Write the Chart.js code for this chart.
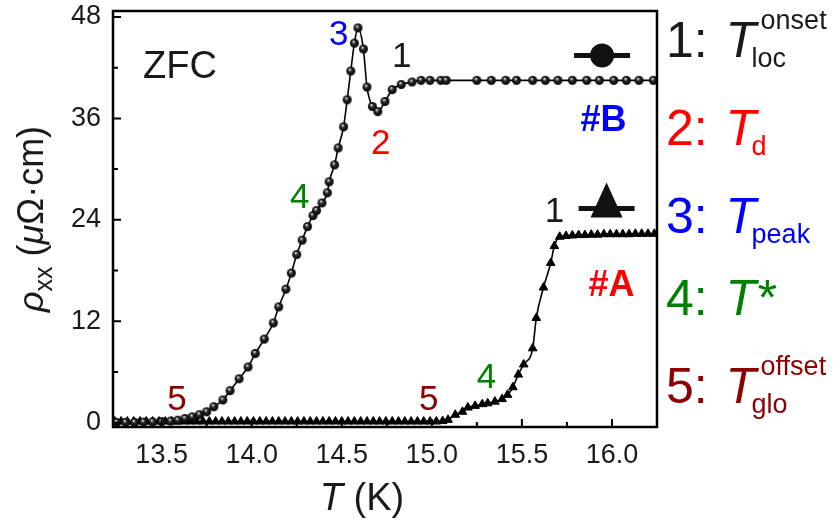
<!DOCTYPE html>
<html>
<head>
<meta charset="utf-8">
<script src="https://cdn.jsdelivr.net/npm/chart.js@4"></script>
<style>
html, body { margin: 0; padding: 0; background: #fff; }
#wrap { width: 840px; height: 521px; }
</style>
</head>
<body>
<div id="wrap"><canvas id="c" width="840" height="521"></canvas></div>
<script>
"use strict";

// sample #B (spheres), T in K, rho in uOhm.cm
const tempB = [13.25, 13.30, 13.35, 13.40, 13.45, 13.50, 13.55, 13.59,
    13.63, 13.67, 13.71, 13.75, 13.79, 13.84, 13.88, 13.93, 13.98, 14.02, 14.07,
    14.12, 14.15, 14.19, 14.22, 14.25, 14.28, 14.31, 14.34, 14.36, 14.39,
    14.42, 14.43, 14.46, 14.48, 14.51, 14.53, 14.55, 14.57, 14.59, 14.62,
    14.64, 14.67, 14.70, 14.74, 14.78,
    14.83, 14.89, 14.94, 14.99, 15.05, 15.08,
    15.25, 15.33, 15.41, 15.47, 15.56, 15.63, 15.70, 15.78, 15.86, 15.93,
    16.01, 16.08, 16.15, 16.23];
const rhoB = [0.05, 0.05, 0.05, 0.08, 0.1, 0.15, 0.2, 0.3,
    0.5, 0.7, 0.95, 1.3, 1.9, 2.7, 3.8, 5.2, 6.6, 8.2, 9.9,
    11.8, 13.7, 15.8, 17.7, 19.9, 21.6, 23.2, 24.5, 25.1, 26.0,
    27.2, 28.5, 30.5, 32.5, 35.0, 38.2, 41.6, 44.9, 46.7, 44.2,
    39.7, 37.4, 36.8, 38.0, 39.4,
    40.0, 40.3, 40.5, 40.5, 40.5, 40.5,
    40.5, 40.5, 40.5, 40.5, 40.5, 40.5, 40.5, 40.5, 40.5, 40.5,
    40.5, 40.5, 40.5, 40.5];

// sample #A (triangles)
const tempA = [13.240, 13.275, 13.310, 13.345, 13.380, 13.415, 13.450, 13.485,
    13.520, 13.555, 13.590, 13.625, 13.660, 13.695, 13.730, 13.765, 13.800,
    13.835, 13.870, 13.905, 13.940, 13.975, 14.010, 14.045, 14.080, 14.115,
    14.150, 14.185, 14.220, 14.255, 14.290, 14.325, 14.360, 14.395, 14.430,
    14.465, 14.500, 14.535, 14.570, 14.605, 14.640, 14.675, 14.710, 14.745,
    14.780, 14.815, 14.850, 14.885, 14.920, 14.955, 14.990, 15.025, 15.060,
    15.09, 15.13, 15.17, 15.20, 15.24, 15.28, 15.31, 15.35, 15.39, 15.42,
    15.45, 15.48, 15.51, 15.56, 15.58, 15.62, 15.66, 15.68, 15.71,
    15.745, 15.780, 15.815, 15.850, 15.885, 15.920, 15.955, 15.990, 16.025,
    16.060, 16.095, 16.130, 16.165, 16.200, 16.235];
const rhoA = [0.15, 0.15, 0.15, 0.15, 0.15, 0.15, 0.15, 0.15,
    0.15, 0.15, 0.15, 0.15, 0.15, 0.15, 0.15, 0.15, 0.15,
    0.15, 0.15, 0.15, 0.15, 0.15, 0.15, 0.15, 0.15, 0.15,
    0.15, 0.15, 0.15, 0.15, 0.15, 0.15, 0.15, 0.15, 0.15,
    0.15, 0.15, 0.15, 0.15, 0.15, 0.15, 0.15, 0.15, 0.15,
    0.15, 0.15, 0.15, 0.15, 0.15, 0.15, 0.15, 0.15, 0.2,
    0.35, 0.95, 1.3, 1.8, 2.0, 2.2, 2.3, 2.5, 2.8, 3.3,
    4.2, 5.7, 6.9, 8.8, 12.4, 16.0, 18.9, 20.9, 22.0,
    22.1, 22.15, 22.2, 22.2, 22.25, 22.25, 22.3, 22.3, 22.3,
    22.3, 22.3, 22.35, 22.35, 22.35, 22.35];

const xTicks = [13.5, 14.0, 14.5, 15.0, 15.5, 16.0];
const xMinor = [13.25, 13.75, 14.25, 14.75, 15.25, 15.75];
const yTicks = [0, 12, 24, 36, 48];
const yMinor = [6, 18, 30, 42];

const FONT = '"Liberation Sans", Arial, sans-serif';
const C_BLACK = '#1a1a1a';
const C_RED = '#ff0000';
const C_BLUE = '#0000ff';
const C_GREEN = '#008000';
const C_DARKRED = '#8b0000';

function makeSphere(r) {
    const c = document.createElement('canvas');
    const s = Math.ceil(r * 2 + 2);
    c.width = s; c.height = s;
    const g = c.getContext('2d');
    const m = s / 2;
    const grad = g.createRadialGradient(m - r * 0.25, m - r * 0.4, 0.1, m, m, r);
    grad.addColorStop(0, '#ffffff');
    grad.addColorStop(0.15, '#b0b0b0');
    grad.addColorStop(0.4, '#2a2a2a');
    grad.addColorStop(1, '#000');
    g.fillStyle = grad;
    g.beginPath();
    g.arc(m, m, r, 0, Math.PI * 2);
    g.fill();
    return c;
}

function toPoints(xs, ys) {
    return xs.map((x, i) => ({ x: x, y: ys[i] }));
}

// centred label, y is the middle of the digits
function drawLabel(ctx, x, y, size, color, text, opts) {
    opts = opts || {};
    ctx.fillStyle = color;
    ctx.textBaseline = 'alphabetic';
    ctx.textAlign = 'left';
    ctx.font = (opts.bold ? 'bold ' : '') + size + 'px ' + FONT;
    const w = ctx.measureText(text).width;
    ctx.fillText(text, x - w / 2, y + size * 0.358);
}

const annotPlugin = {
    id: 'annot',
    afterDraw(chart) {
        const ctx = chart.ctx;
        const xs = chart.scales.x, ys = chart.scales.y;
        const a = chart.chartArea;
        const X = v => xs.getPixelForValue(v);
        const Y = v => ys.getPixelForValue(v);

        ctx.save();
        // frame
        ctx.strokeStyle = '#000';
        ctx.lineWidth = 2.5;
        ctx.strokeRect(a.left, a.top, a.right - a.left, a.bottom - a.top);

        // inward ticks
        ctx.lineWidth = 2;
        ctx.beginPath();
        xTicks.forEach(v => { ctx.moveTo(X(v), a.bottom); ctx.lineTo(X(v), a.bottom - 8); });
        xMinor.forEach(v => { ctx.moveTo(X(v), a.bottom); ctx.lineTo(X(v), a.bottom - 5); });
        yTicks.forEach(v => { ctx.moveTo(a.left, Y(v)); ctx.lineTo(a.left + 8, Y(v)); });
        yMinor.forEach(v => { ctx.moveTo(a.left, Y(v)); ctx.lineTo(a.left + 5, Y(v)); });
        ctx.stroke();

        // labels inside the plot
        drawLabel(ctx, X(13.602), Y(42.44), 38, C_BLACK, 'ZFC');
        drawLabel(ctx, X(14.483), Y(46.16), 35, C_BLUE, '3');
        drawLabel(ctx, X(14.833), Y(43.5), 35, C_BLACK, '1');
        drawLabel(ctx, X(14.716), Y(33.27), 35, C_RED, '2');
        drawLabel(ctx, X(14.267), Y(26.94), 35, C_GREEN, '4');
        drawLabel(ctx, X(13.585), Y(3.05), 35, C_DARKRED, '5');
        drawLabel(ctx, X(14.983), Y(3.05), 35, C_DARKRED, '5');
        drawLabel(ctx, X(15.304), Y(5.65), 35, C_GREEN, '4');
        drawLabel(ctx, X(15.681), Y(25.17), 35, C_BLACK, '1');
        drawLabel(ctx, X(15.953), Y(36.05), 36, C_BLUE, '#B', { bold: true });
        drawLabel(ctx, X(15.998), Y(16.54), 36, C_RED, '#A', { bold: true });

        // series symbols
        ctx.strokeStyle = '#111';
        ctx.fillStyle = '#111';
        ctx.lineWidth = 5;
        let cx = X(15.945), cy = Y(43.44);
        ctx.beginPath(); ctx.moveTo(cx - 28, cy); ctx.lineTo(cx + 28, cy); ctx.stroke();
        ctx.beginPath(); ctx.arc(cx, cy, 12, 0, Math.PI * 2); ctx.fill();
        cx = X(15.970); cy = Y(25.35);
        ctx.beginPath(); ctx.moveTo(cx - 28, cy); ctx.lineTo(cx + 28, cy); ctx.stroke();
        ctx.beginPath();
        ctx.moveTo(cx, cy - 26); ctx.lineTo(cx + 16, cy + 9); ctx.lineTo(cx - 16, cy + 9);
        ctx.closePath(); ctx.fill();

        // axis titles
        ctx.fillStyle = '#1a1a1a';
        ctx.textBaseline = 'alphabetic';
        ctx.textAlign = 'left';
        const tParts = [
            { t: 'T', f: 'italic 38px ' + FONT },
            { t: ' (K)', f: '38px ' + FONT }
        ];
        let tw = 0;
        tParts.forEach(p => { ctx.font = p.f; tw += ctx.measureText(p.t).width; });
        let tx = (a.left + a.right) / 2 - tw / 2 - 23;
        tParts.forEach(p => { ctx.font = p.f; ctx.fillText(p.t, tx, 510); tx += ctx.measureText(p.t).width; });

        const yParts = [
            { t: '\u03c1', f: 'italic 36px ' + FONT, dy: 0 },
            { t: 'xx', f: '25px ' + FONT, dy: 9 },
            { t: ' (', f: '36px ' + FONT, dy: 0 },
            { t: '\u03bc', f: 'italic 36px ' + FONT, dy: 0 },
            { t: '\u03a9\u00b7cm)', f: '36px ' + FONT, dy: 0 }
        ];
        let yw = 0;
        yParts.forEach(p => { ctx.font = p.f; yw += ctx.measureText(p.t).width; });
        ctx.save();
        ctx.translate(43, (a.top + a.bottom) / 2);
        ctx.rotate(-Math.PI / 2);
        let ux = -yw / 2;
        yParts.forEach(p => { ctx.font = p.f; ctx.fillText(p.t, ux, p.dy); ux += ctx.measureText(p.t).width; });
        ctx.restore();

        // key on the right
        const rows = [
            { n: '1', c: C_BLACK, sup: 'onset', sub: 'loc', b: 57 },
            { n: '2', c: C_RED, sub: 'd', b: 145 },
            { n: '3', c: C_BLUE, sub: 'peak', b: 233 },
            { n: '4', c: C_GREEN, star: true, b: 315 },
            { n: '5', c: C_DARKRED, sup: 'offset', sub: 'glo', b: 403 }
        ];
        const lx = a.right + 9;
        rows.forEach(r => {
            ctx.fillStyle = r.c;
            ctx.font = '50px ' + FONT;
            const head = r.n + ': ';
            ctx.fillText(head, lx, r.b);
            const Tx = lx + ctx.measureText(head).width + 4;
            ctx.font = 'italic 50px ' + FONT;
            ctx.fillText('T', Tx, r.b);
            if (r.star) {
                ctx.fillText('*', Tx + 30, r.b);
            }
            ctx.font = '27px ' + FONT;
            if (r.sub) ctx.fillText(r.sub, Tx + 26, r.b + 10);
            if (r.sup) ctx.fillText(r.sup, Tx + 35, r.b - 28);
        });
        ctx.restore();
    }
};

const sphere = makeSphere(4.5);
const ctx = document.getElementById('c').getContext('2d');

new Chart(ctx, {
    type: 'scatter',
    data: {
        datasets: [
            {
                label: '#B',
                data: toPoints(tempB, rhoB),
                showLine: true,
                borderColor: '#000',
                borderWidth: 1.6,
                cubicInterpolationMode: 'monotone',
                pointStyle: sphere,
                pointRadius: 4.5,
                order: 0
            },
            {
                label: '#A',
                data: toPoints(tempA, rhoA),
                showLine: true,
                borderColor: '#000',
                borderWidth: 1.6,
                cubicInterpolationMode: 'monotone',
                pointStyle: 'triangle',
                pointRadius: 5,
                pointBackgroundColor: '#000',
                pointBorderColor: '#000',
                pointBorderWidth: 1,
                order: 1
            }
        ]
    },
    options: {
        responsive: false,
        animation: false,
        devicePixelRatio: 1,
        layout: { padding: { top: 11, right: 183, left: 0, bottom: 0 } },
        plugins: { legend: { display: false }, tooltip: { enabled: false } },
        scales: {
            x: {
                type: 'linear',
                min: 13.23,
                max: 16.25,
                grid: { display: false, drawTicks: false },
                border: { display: false },
                afterBuildTicks: s => { s.ticks = xTicks.map(v => ({ value: v })); },
                afterFit: s => { s.height = 94; s.paddingLeft = 0; s.paddingRight = 0; },
                ticks: {
                    padding: 12,
                    color: '#1a1a1a',
                    font: { family: FONT, size: 27 },
                    maxRotation: 0,
                    callback: v => v.toFixed(1)
                }
            },
            y: {
                min: -0.5,
                max: 48.7,
                grid: { display: false, drawTicks: false },
                border: { display: false },
                afterBuildTicks: s => { s.ticks = yTicks.map(v => ({ value: v })); },
                afterFit: s => { s.width = 113; s.paddingTop = 0; s.paddingBottom = 0; },
                ticks: {
                    padding: 12,
                    color: '#1a1a1a',
                    font: { family: FONT, size: 27 },
                    callback: v => String(v)
                }
            }
        }
    },
    plugins: [annotPlugin]
});
</script>
</body>
</html>
